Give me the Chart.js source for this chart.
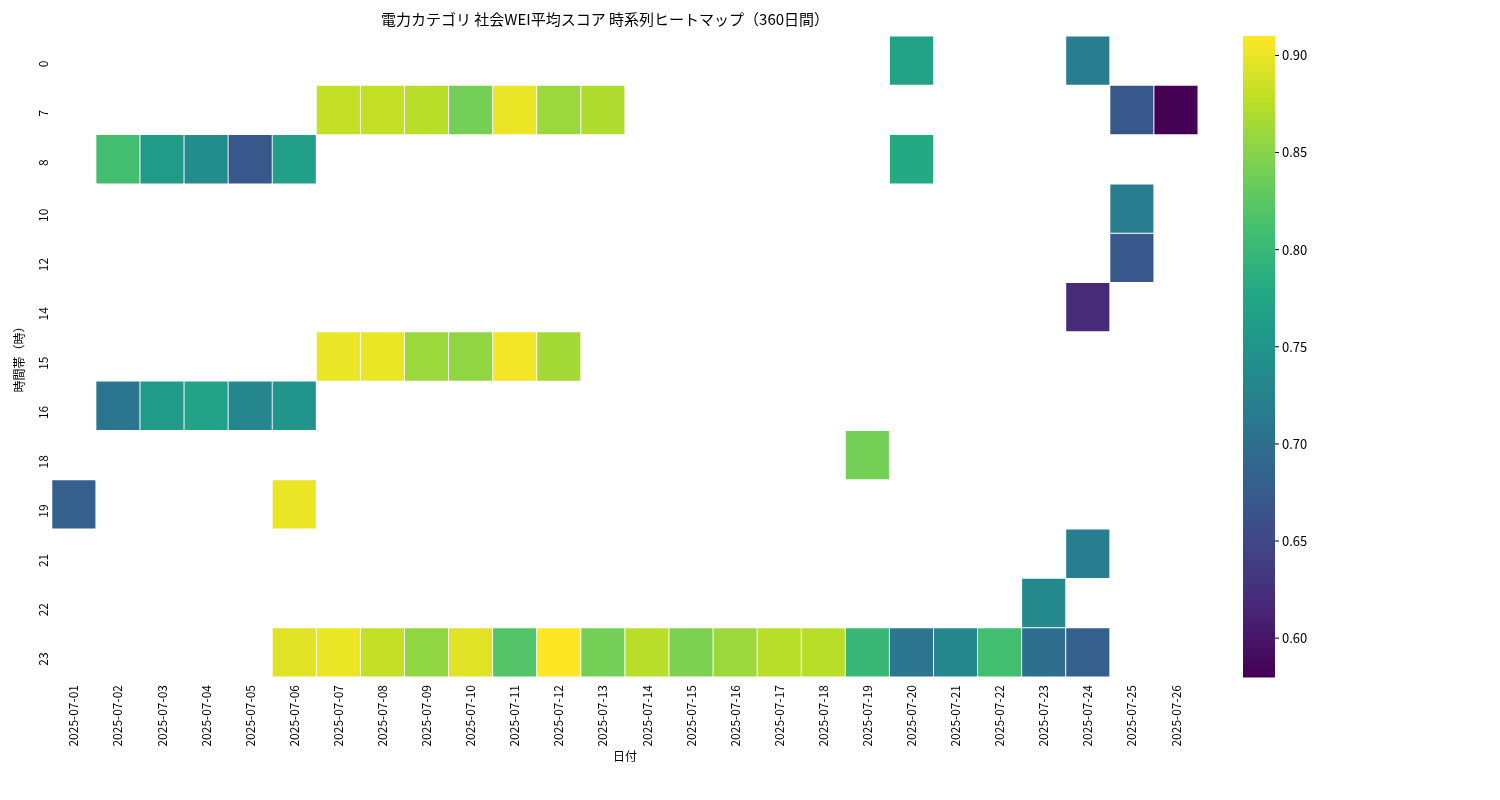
<!DOCTYPE html>
<html>
<head>
<meta charset="utf-8">
<script src="https://cdn.jsdelivr.net/npm/chart.js@4"></script>
<style>
body { margin: 0; background: #fff; }
#wrap { width: 1500px; height: 800px; }
</style>
</head>
<body>
<div id="wrap"><canvas id="heat"></canvas></div>
<script>
// data
var dates = [];
for (var d = 1; d <= 26; d++) dates.push("2025-07-" + (d < 10 ? "0" + d : d));
var hours = ["0", "7", "8", "10", "12", "14", "15", "16", "18", "19", "21", "22", "23"];

// [row index, column index, value]
var cells = [
    [0, 19, 0.77], [0, 23, 0.72],
    [1, 6, 0.88], [1, 7, 0.88], [1, 8, 0.875], [1, 9, 0.84], [1, 10, 0.90], [1, 11, 0.86], [1, 12, 0.87], [1, 24, 0.67], [1, 25, 0.58],
    [2, 1, 0.81], [2, 2, 0.76], [2, 3, 0.74], [2, 4, 0.67], [2, 5, 0.765], [2, 19, 0.78],
    [3, 24, 0.72],
    [4, 24, 0.67],
    [5, 23, 0.62],
    [6, 6, 0.90], [6, 7, 0.90], [6, 8, 0.86], [6, 9, 0.855], [6, 10, 0.905], [6, 11, 0.865],
    [7, 1, 0.71], [7, 2, 0.76], [7, 3, 0.77], [7, 4, 0.73], [7, 5, 0.75],
    [8, 18, 0.84],
    [9, 0, 0.68], [9, 5, 0.90],
    [10, 23, 0.72],
    [11, 22, 0.735],
    [12, 5, 0.895], [12, 6, 0.90], [12, 7, 0.88], [12, 8, 0.855], [12, 9, 0.895], [12, 10, 0.82], [12, 11, 0.91], [12, 12, 0.84],
    [12, 13, 0.875], [12, 14, 0.845], [12, 15, 0.86], [12, 16, 0.875], [12, 17, 0.875], [12, 18, 0.80], [12, 19, 0.71],
    [12, 20, 0.73], [12, 21, 0.81], [12, 22, 0.70], [12, 23, 0.68]
];
var vmin = 0.58, vmax = 0.91;
var cbTicks = [0.60, 0.65, 0.70, 0.75, 0.80, 0.85, 0.90];

var viridis = ["#440154", "#482475", "#414487", "#355f8d", "#2a788e", "#21918c", "#22a884", "#44bf70", "#7ad151", "#bddf26", "#fde725"];

function hex(h) { return [parseInt(h.substr(1, 2), 16), parseInt(h.substr(3, 2), 16), parseInt(h.substr(5, 2), 16)]; }
function colorFor(v) {
    var t = Math.max(0, Math.min(1, (v - vmin) / (vmax - vmin))) * 10;
    var i = Math.min(9, Math.floor(t)), f = t - i;
    var a = hex(viridis[i]), b = hex(viridis[i + 1]);
    return "rgb(" + [0, 1, 2].map(function(k) { return Math.round(a[k] + (b[k] - a[k]) * f); }).join(",") + ")";
}

// one floating-bar dataset per hour row
var datasets = hours.map(function(h, r) {
    var vals = dates.map(function() { return null; });
    var cols = dates.map(function() { return "rgba(0,0,0,0)"; });
    cells.forEach(function(c) {
        if (c[0] === r) { vals[c[1]] = [r - 0.5, r + 0.5]; cols[c[1]] = colorFor(c[2]); }
    });
    return {
        label: h, data: vals, backgroundColor: cols,
        borderColor: "#fff", borderWidth: 0.8, borderSkipped: false,
        barPercentage: 1, categoryPercentage: 1, grouped: false
    };
});

var font = "'Noto Sans CJK JP', 'Noto Sans', sans-serif";
Chart.defaults.font.family = font;
Chart.defaults.color = "#000";

// colorbar on the right
var colorbar = {
    id: "colorbar",
    afterDraw: function(chart) {
        var ctx = chart.ctx, a = chart.chartArea;
        var x = 1243, w = 32, top = a.top, bot = a.bottom;
        for (var y = top; y < bot; y++) {
            var v = vmax - (y - top) / (bot - top) * (vmax - vmin);
            ctx.fillStyle = colorFor(v);
            ctx.fillRect(x, y, w, 1.5);
        }
        ctx.fillStyle = "#000"; ctx.strokeStyle = "#000";
        ctx.font = "13px " + font; ctx.textBaseline = "middle"; ctx.textAlign = "left";
        cbTicks.forEach(function(t) {
            var y = bot - (t - vmin) / (vmax - vmin) * (bot - top);
            ctx.beginPath(); ctx.moveTo(x + w, y); ctx.lineTo(x + w + 4, y); ctx.stroke();
            ctx.fillText(t.toFixed(2), x + w + 7, y);
        });
    }
};

new Chart(document.getElementById("heat"), {
    type: "bar",
    data: { labels: dates, datasets: datasets },
    plugins: [colorbar],
    options: {
        responsive: true, maintainAspectRatio: false, animation: false,
        layout: { padding: { top: 10, right: 302, left: 12, bottom: 36 } },
        plugins: {
            legend: { display: false }, tooltip: { enabled: false },
            title: { display: true, text: "電力カテゴリ 社会WEI平均スコア 時系列ヒートマップ（360日間）", font: { size: 15, weight: "normal" }, padding: { bottom: 8 } }
        },
        scales: {
            x: {
                grid: { display: false, drawTicks: true, tickLength: 5 }, border: { display: false },
                ticks: { maxRotation: 90, minRotation: 90, font: { size: 12 }, autoSkip: false },
                title: { display: true, text: "日付", font: { size: 12 }, padding: 0 }
            },
            y: {
                type: "linear", reverse: true, min: -0.5, max: 12.5,
                afterBuildTicks: function(s) { s.ticks = hours.map(function(h, i) { return { value: i }; }); },
                grid: { display: false, drawTicks: true, tickLength: 5 }, border: { display: false },
                ticks: { font: { size: 12 }, maxRotation: 90, minRotation: 90, callback: function(v) { return hours[v]; } },
                title: { display: true, text: "時間帯（時）", font: { size: 12 }, padding: 0 }
            }
        }
    }
});
</script>
</body>
</html>
